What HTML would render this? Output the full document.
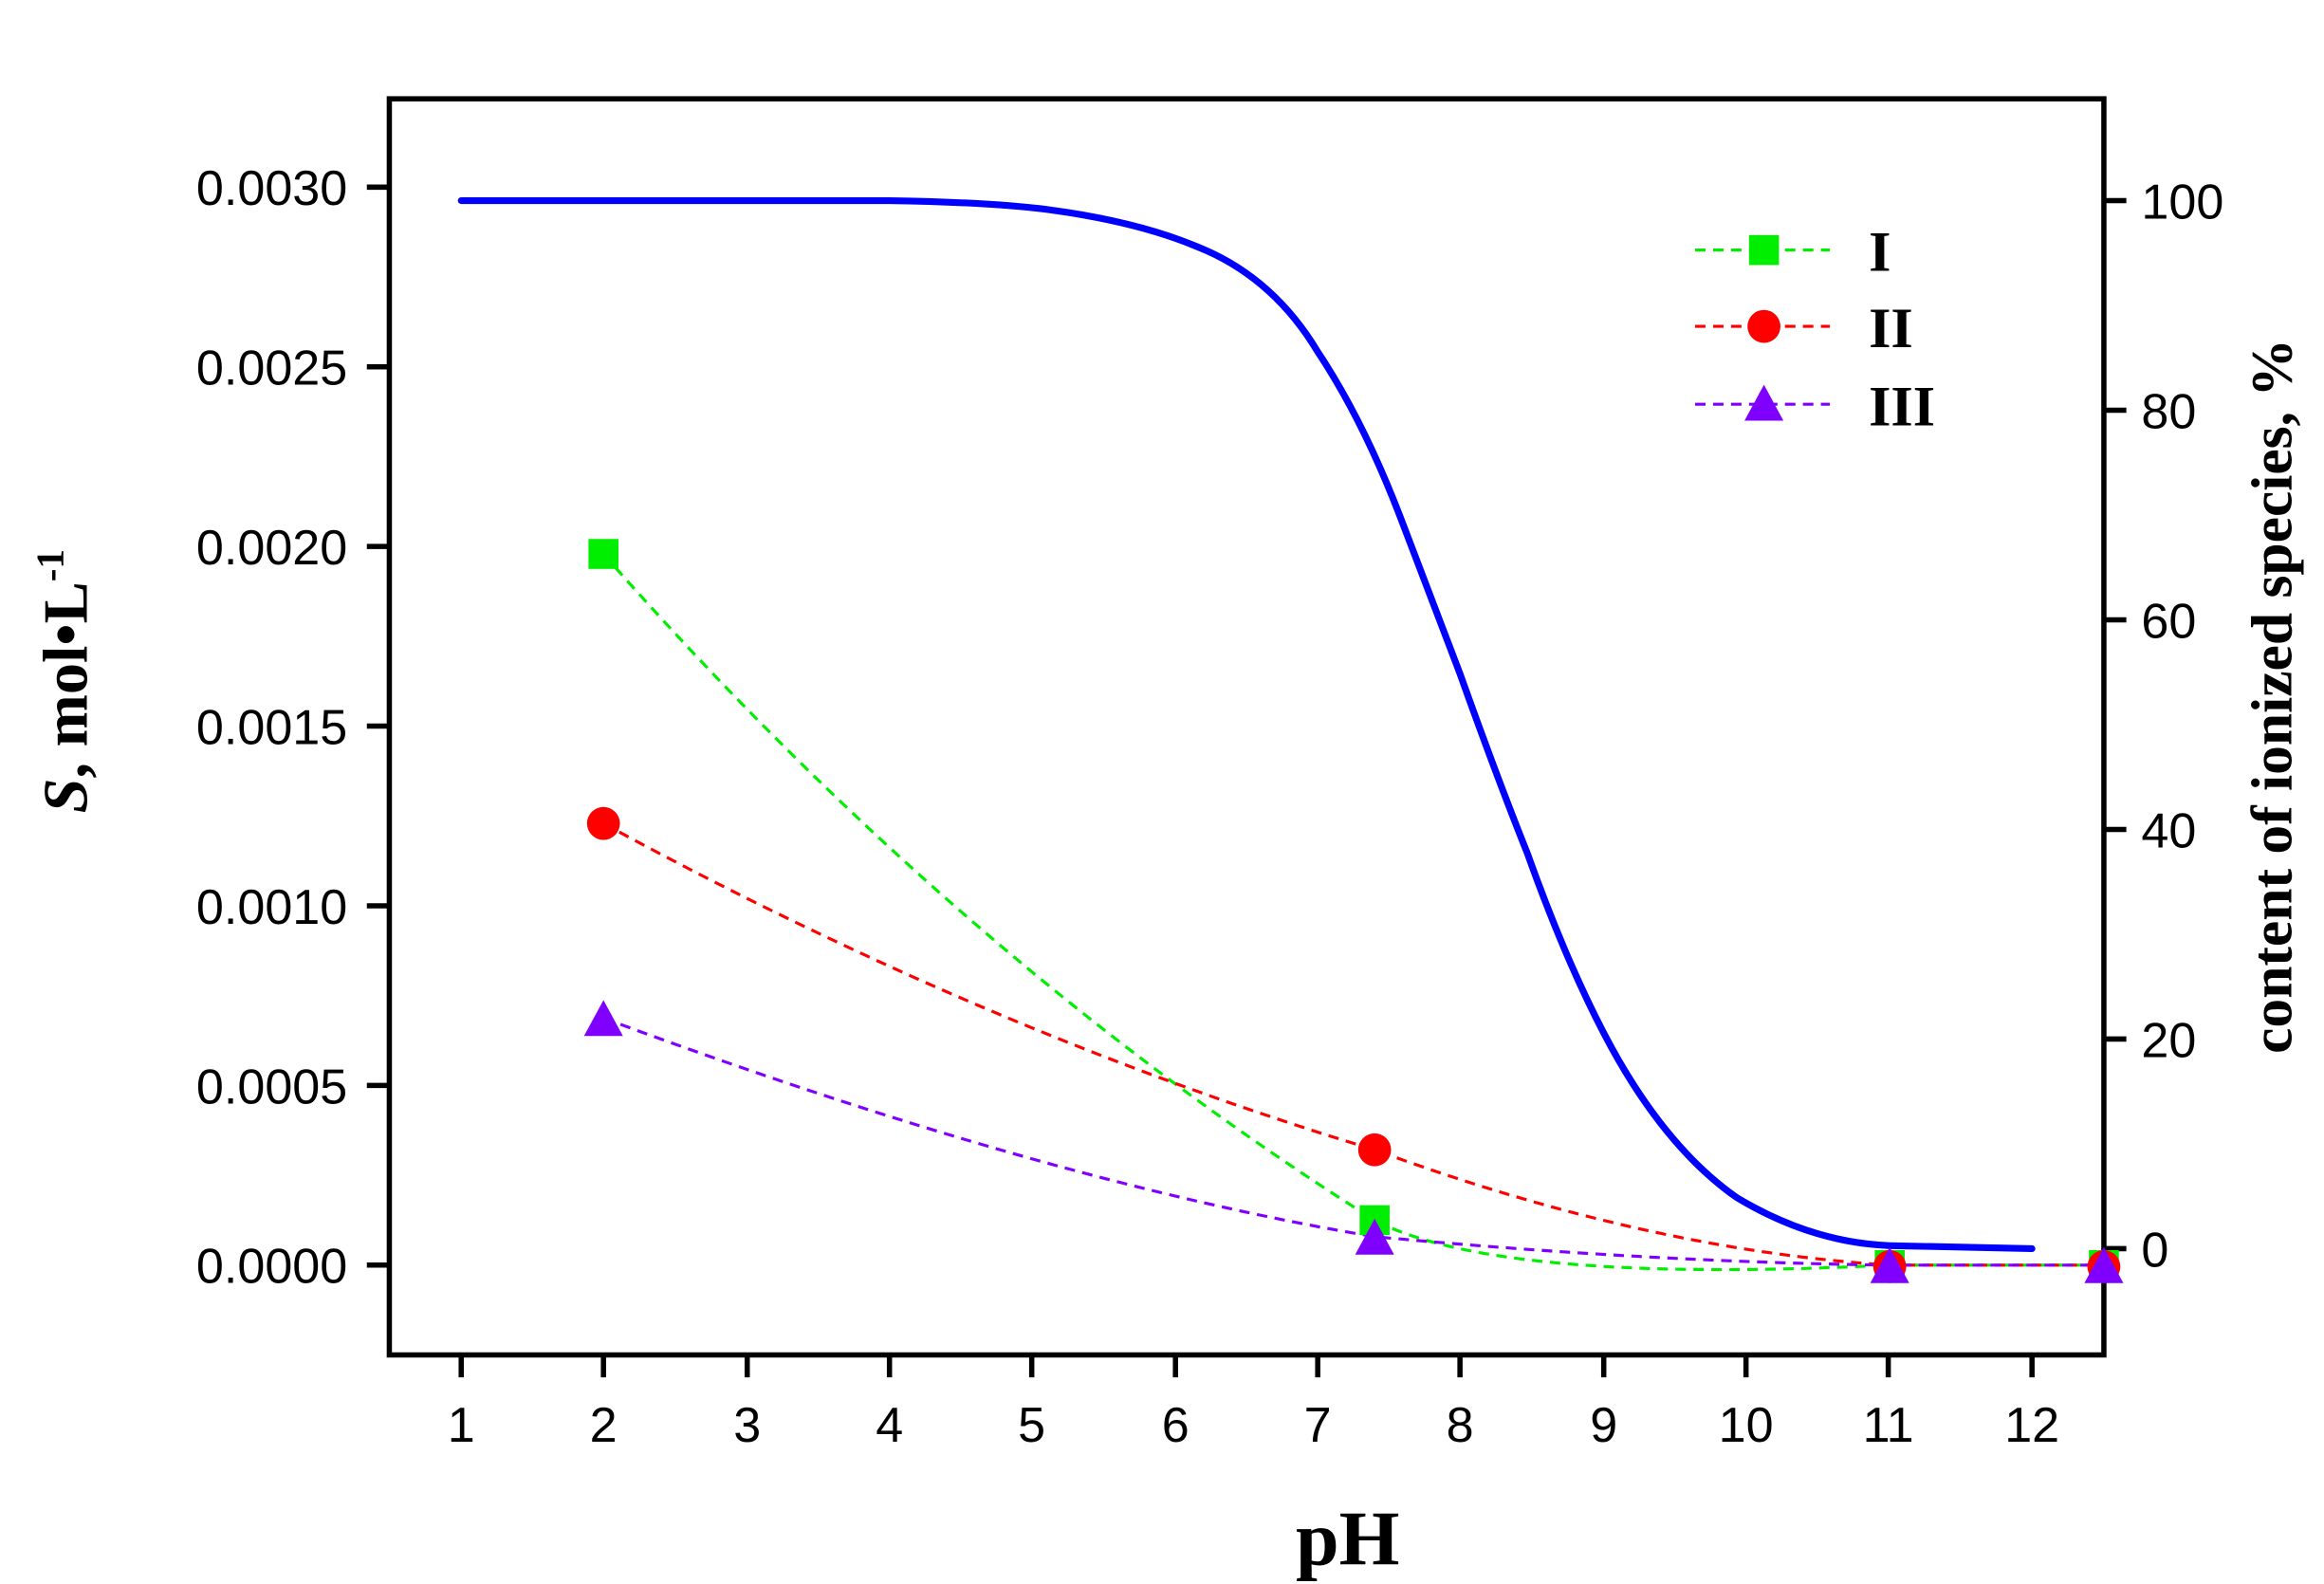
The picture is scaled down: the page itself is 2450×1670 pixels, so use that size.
<!DOCTYPE html>
<html><head><meta charset="utf-8"><style>
html,body{margin:0;padding:0;background:#fff}
svg{display:block}
</style></head><body>
<svg width="2450" height="1670" viewBox="0 0 1552 1058" preserveAspectRatio="none" xmlns="http://www.w3.org/2000/svg">
<rect width="1552" height="1058" fill="#fff"/>
<g stroke="#000" stroke-width="3.5" fill="none">
<rect x="260" y="66" width="1145" height="839"/>
<path d="M308 905v15M403 905v15M499 905v15M594 905v15M689 905v15M785 905v15M880 905v15M975 905v15M1071 905v15M1166 905v15M1261 905v15M1357 905v15"/>
<path d="M245 125h15M245 245h15M245 365h15M245 485h15M245 605h15M245 725h15M245 845h15"/>
<path d="M1405 134h15M1405 274h15M1405 414h15M1405 554h15M1405 694h15M1405 834h15"/>
</g>
<g font-family="Liberation Sans, sans-serif" font-size="33" fill="#000" text-anchor="middle">
<text x="308" y="963">1</text><text x="403" y="963">2</text><text x="499" y="963">3</text><text x="594" y="963">4</text><text x="689" y="963">5</text><text x="785" y="963">6</text><text x="880" y="963">7</text><text x="975" y="963">8</text><text x="1071" y="963">9</text><text x="1166" y="963">10</text><text x="1261" y="963">11</text><text x="1357" y="963">12</text>
</g>
<g font-family="Liberation Sans, sans-serif" font-size="33" fill="#000" text-anchor="end">
<text x="232" y="137">0.0030</text><text x="232" y="257">0.0025</text><text x="232" y="377">0.0020</text><text x="232" y="497">0.0015</text><text x="232" y="617">0.0010</text><text x="232" y="737">0.0005</text><text x="232" y="857">0.0000</text>
</g>
<g font-family="Liberation Sans, sans-serif" font-size="33" fill="#000">
<text x="1430" y="146">100</text><text x="1430" y="286">80</text><text x="1430" y="426">60</text><text x="1430" y="566">40</text><text x="1430" y="706">20</text><text x="1430" y="846">0</text>
</g>
<text x="900" y="1045" font-family="Liberation Serif, serif" font-weight="bold" font-size="52" text-anchor="middle">pH</text>
<text transform="translate(58,455) rotate(-90)" font-family="Liberation Serif, serif" font-weight="bold" font-size="42" text-anchor="middle"><tspan font-style="italic">S</tspan>, mol•L<tspan dy="-16" font-size="26">-1</tspan></text>
<text transform="translate(1530,465) rotate(-90)" font-family="Liberation Serif, serif" font-weight="bold" font-size="39" text-anchor="middle">content of ionized species, %</text>
<path fill="none" stroke="#0000ff" stroke-width="4.5" stroke-linecap="round" d="M308 134 L594 134 Q660 135 700 140 Q760 148 800 165 Q850 185 880 235 Q910 280 935 345 Q960 410 975 450 Q1000 520 1020 570 Q1045 640 1071 690 Q1110 765 1160 800 Q1210 830 1262 832 L1357 834"/>
<g fill="none" stroke-width="2" stroke-dasharray="7,5">
<path stroke="#00ee00" d="M403 370 Q640 640 918 815 Q1000 858 1262 845 L1405 845"/>
<path stroke="#ff0000" d="M403 550 Q660 690 918 768 Q1100 835 1262 845 L1405 845"/>
<path stroke="#8000ff" d="M403 680 Q700 790 918 826 Q1100 843 1262 845 L1405 845"/>
<path stroke="#00ee00" d="M1132 167h90"/>
<path stroke="#ff0000" d="M1132 218h90"/>
<path stroke="#8000ff" d="M1132 270h90"/>
</g>
<g fill="#00ee00">
<rect x="393" y="360" width="20" height="20"/><rect x="908" y="805" width="20" height="20"/><rect x="1252" y="835" width="20" height="20"/><rect x="1395" y="835" width="20" height="20"/><rect x="1168" y="157" width="20" height="20"/>
</g>
<g fill="#ff0000">
<circle cx="403" cy="550" r="11"/><circle cx="918" cy="768" r="11"/><circle cx="1262" cy="846" r="11"/><circle cx="1405" cy="846" r="11"/><circle cx="1178" cy="218" r="11"/>
</g>
<g fill="#8000ff">
<path d="M403 668l13 24h-26z"/><path d="M918 814l13 24h-26z"/><path d="M1262 833l13 24h-26z"/><path d="M1405 833l13 24h-26z"/><path d="M1178 257l13 24h-26z"/>
</g>
<g font-family="Liberation Serif, serif" font-weight="bold" font-size="38" fill="#000">
<text x="1248" y="181">I</text><text x="1248" y="232">II</text><text x="1248" y="284">III</text>
</g>
</svg>
</body></html>
